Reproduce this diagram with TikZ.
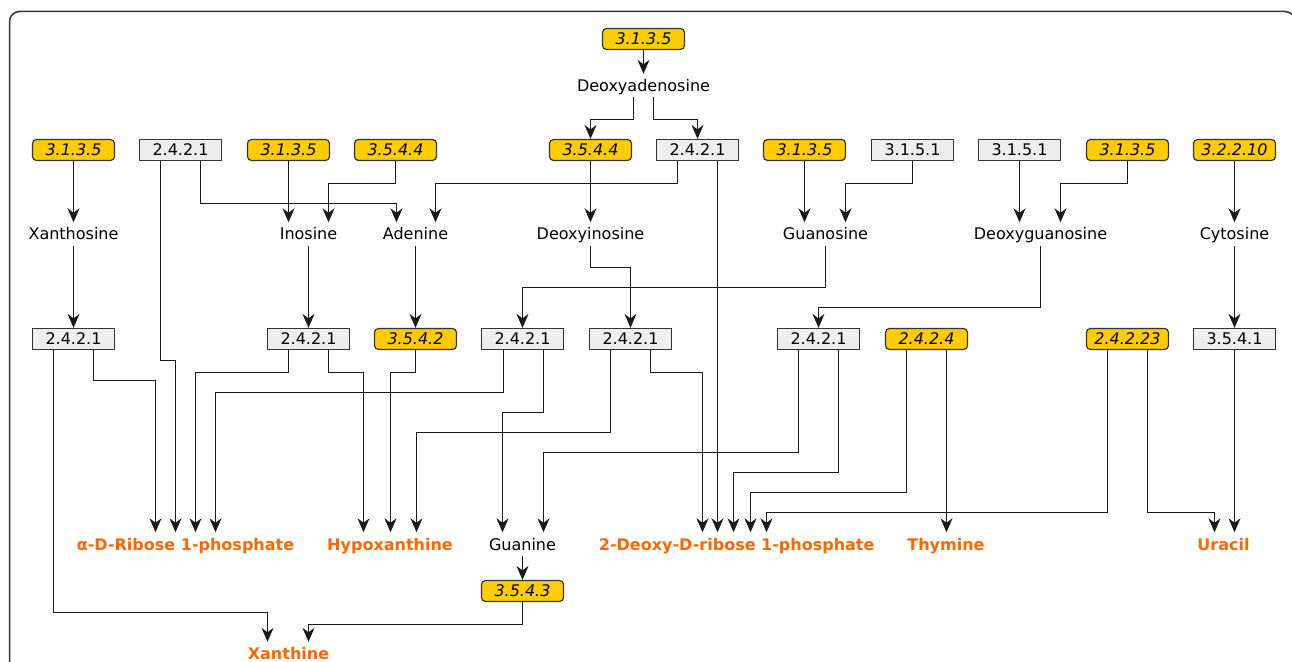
\documentclass[tikz,border=0pt]{standalone}
\usepackage{fontspec}
\setmainfont{DejaVu Sans}
\usetikzlibrary{arrows.meta,calc}
\definecolor{ecyellow}{HTML}{FFCC00}
\definecolor{ecgray}{HTML}{EEEEEE}
\definecolor{prodorange}{HTML}{FF6600}
\definecolor{edgecol}{HTML}{333333}
\definecolor{linecol}{HTML}{1A1A1A}
\tikzset{
  enzy/.style={draw=edgecol, line width=1.2bp, fill=ecyellow, rounded corners=4bp,
    minimum width=82bp, minimum height=21bp, inner sep=0pt,
    font=\fontsize{16bp}{19bp}\selectfont\itshape},
  enzg/.style={draw=edgecol, line width=1.2bp, fill=ecgray,
    minimum width=82bp, minimum height=21bp, inner sep=0pt,
    font=\fontsize{16bp}{19bp}\selectfont},
  metab/.style={inner xsep=2bp, inner ysep=5.5bp, text height=12bp, text depth=0pt,
    anchor=base, font=\fontsize{16bp}{19bp}\selectfont},
  prod/.style={metab, text=prodorange, font=\fontsize{16bp}{19bp}\selectfont\bfseries},
  arr/.style={draw=linecol, line width=1.3bp,
    -{Stealth[length=14bp,width=12bp,inset=4.5bp]}}
}
\begin{document}
\begin{tikzpicture}[x=1bp,y=-1bp]
\useasboundingbox (0,0) rectangle (1292,662);
\clip (0,0) rectangle (1292,662);
\draw[edgecol, line width=1.5bp, rounded corners=10bp] (9.5,11.5) rectangle (1295,720);

% top
\node[enzy] (t0) at (643.5,39) {3.1.3.5};
\node[metab] (dad) at (643.5,91.5) {Deoxyadenosine};

% row 1 enzymes
\node[enzy] (e1) at (73.5,150) {3.1.3.5};
\node[enzg] (e2) at (180.5,150) {2.4.2.1};
\node[enzy] (e3) at (288.5,150) {3.1.3.5};
\node[enzy] (e4) at (395.5,150) {3.5.4.4};
\node[enzy] (e5) at (590.5,150) {3.5.4.4};
\node[enzg] (e6) at (697.5,150) {2.4.2.1};
\node[enzy] (e7) at (804.5,150) {3.1.3.5};
\node[enzg] (e8) at (912.5,150) {3.1.5.1};
\node[enzg] (e9) at (1019.5,150) {3.1.5.1};
\node[enzy] (e10) at (1127.5,150) {3.1.3.5};
\node[enzy] (e11) at (1234.5,150) {3.2.2.10};

% row 2 metabolites
\node[metab] (xao) at (73.5,240) {Xanthosine};
\node[metab] (ino) at (308.5,240) {Inosine};
\node[metab] (ade) at (415.5,240) {Adenine};
\node[metab] (dino) at (590.5,240) {Deoxyinosine};
\node[metab] (guo) at (825.5,240) {Guanosine};
\node[metab] (dguo) at (1040.5,240) {Deoxyguanosine};
\node[metab] (cyt) at (1234.5,240) {Cytosine};

% row 3 enzymes
\node[enzg] (f1) at (73.5,339) {2.4.2.1};
\node[enzg] (f2) at (308.5,339) {2.4.2.1};
\node[enzy] (f3) at (415.5,339) {3.5.4.2};
\node[enzg] (f4) at (522.5,339) {2.4.2.1};
\node[enzg] (f5) at (630.5,339) {2.4.2.1};
\node[enzg] (f6) at (818.5,339) {2.4.2.1};
\node[enzy] (f7) at (926.5,339) {2.4.2.4};
\node[enzy] (f8) at (1127.5,339) {2.4.2.23};
\node[enzg] (f9) at (1234.5,339) {3.5.4.1};

% products
\node[prod] (rib) at (185.5,550) {α-D-Ribose 1-phosphate};
\node[prod] (hyp) at (390,550) {Hypoxanthine};
\node[metab] (gua) at (522.5,550) {Guanine};
\node[prod] (dr) at (736.7,550) {2-Deoxy-D-ribose 1-phosphate};
\node[prod] (thy) at (946,550) {Thymine};
\node[prod] (ura) at (1223.5,550) {Uracil};
\node[enzy] (g3) at (522.5,591) {3.5.4.3};
\node[prod] (xan) at (288.5,659.5) {Xanthine};

% connectors top
\draw[arr] (t0.south) -- (t0.south |- dad.north);
\draw[arr] ($(dad.south)+(-10,0)$) -- ++(0,22) -| (e5.north);
\draw[arr] ($(dad.south)+(10,0)$) -- ++(0,22) -| (e6.north);

% row 1 -> row 2
\draw[arr] (e1.south) -- (e1.south |- xao.north);
\draw[arr] (160.5,0 |- e2.south) -- ++(0,199.5) -| (175.5,0 |- rib.north);
\draw[arr] (200.5,0 |- e2.south) -- ++(0,42.5) -| (396.5,0 |- ade.north);
\draw[arr] (e3.south) -- (e3.south |- ino.north);
\draw[arr] (e4.south) -- ++(0,22.5) -| (328.5,0 |- ino.north);
\draw[arr] (677.5,0 |- e6.south) -- ++(0,22.5) -| (435.5,0 |- ade.north);
\draw[arr] (717.5,0 |- e6.south) -- (717.5,0 |- dr.north);
\draw[arr] (e5.south) -- (e5.south |- dino.north);
\draw[arr] (e7.south) -- (e7.south |- guo.north);
\draw[arr] (e8.south) -- ++(0,22.5) -| (845.5,0 |- guo.north);
\draw[arr] (e9.south) -- (e9.south |- dguo.north);
\draw[arr] (e10.south) -- ++(0,22.5) -| (1060.5,0 |- dguo.north);
\draw[arr] (e11.south) -- (e11.south |- cyt.north);

% row 2 -> row 3
\draw[arr] (xao.south) -- (xao.south |- f1.north);
\draw[arr] (ino.south) -- (ino.south |- f2.north);
\draw[arr] (ade.south) -- (ade.south |- f3.north);
\draw[arr] (dino.south) -- ++(0,21.5) -| (f5.north);
\draw[arr] (guo.south) -- ++(0,41.5) -| (f4.north);
\draw[arr] (dguo.south) -- ++(0,61.5) -| (f6.north);
\draw[arr] (cyt.south) -- (cyt.south |- f9.north);

% row 3 -> products
\draw[arr] (93.5,0 |- f1.south) -- ++(0,30.5) -| (155.5,0 |- rib.north);
\draw[arr] (53.5,0 |- f1.south) -- ++(0,262.5) -| (267.5,0 |- xan.north);
\draw[arr] (288.5,0 |- f2.south) -- ++(0,22.5) -| (195.5,0 |- rib.north);
\draw[arr] (328.5,0 |- f2.south) -- ++(0,22.5) -| (363.5,0 |- hyp.north);
\draw[arr] (f3.south) -- ++(0,22.5) -| (390.5,0 |- hyp.north);
\draw[arr] (503.5,0 |- f4.south) -- ++(0,42.5) -| (215.5,0 |- rib.north);
\draw[arr] (543.5,0 |- f4.south) -- ++(0,62.5) -| (502.5,0 |- gua.north);
\draw[arr] (610.5,0 |- f5.south) -- ++(0,82.5) -| (416.5,0 |- hyp.north);
\draw[arr] (650.5,0 |- f5.south) -- ++(0,22.5) -| (702.5,0 |- dr.north);
\draw[arr] (798.5,0 |- f6.south) -- ++(0,102.5) -| (543.5,0 |- gua.north);
\draw[arr] (838.5,0 |- f6.south) -- ++(0,122.5) -| (733.5,0 |- dr.north);
\draw[arr] (906.5,0 |- f7.south) -- ++(0,142.5) -| (750.5,0 |- dr.north);
\draw[arr] (946.5,0 |- f7.south) -- (946.5,0 |- thy.north);
\draw[arr] (1107.5,0 |- f8.south) -- ++(0,162.5) -| (766.5,0 |- dr.north);
\draw[arr] (1147.5,0 |- f8.south) -- ++(0,162.5) -| (1214.5,0 |- ura.north);
\draw[arr] (f9.south) -- (f9.south |- ura.north);
\draw[arr] (gua.south) -- (gua.south |- g3.north);
\draw[arr] (g3.south) -- ++(0,22.5) -| (308.5,0 |- xan.north);
\end{tikzpicture}
\end{document}
